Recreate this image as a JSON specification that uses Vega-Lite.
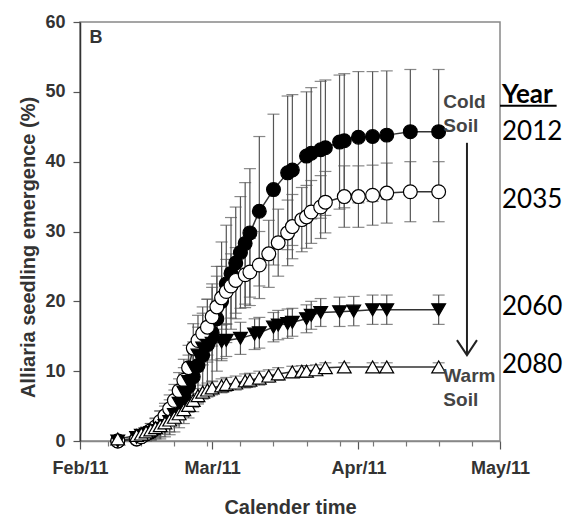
{
  "$schema": "https://vega.github.io/schema/vega-lite/v6.json",
  "width": 420,
  "height": 419,
  "autosize": "none",
  "padding": {"left": 80, "top": 22, "right": 67, "bottom": 77},
  "background": "white",
  "config": {
    "view": {"stroke": "#888", "strokeWidth": 1.5},
    "font": "Liberation Sans",
    "axis": {"labelFont": "Liberation Sans", "titleFont": "Liberation Sans", "labelFontWeight": "bold", "titleFontWeight": "bold", "labelColor": "#333", "titleColor": "#333", "labelFontSize": 18, "titleFontSize": 20, "domainColor": "#555", "domainWidth": 1.5, "tickColor": "#555", "tickWidth": 1.2, "grid": false}
  },
  "resolve": {"scale": {"x": "shared", "y": "shared"}, "axis": {"x": "independent"}},
  "datasets": {
    "main": [
      {"s":"2012","d":"2011-02-09","v":0,"lo":0,"hi":0},
      {"s":"2012","d":"2011-02-13","v":0.3,"lo":0,"hi":0.8},
      {"s":"2012","d":"2011-02-14","v":0.6,"lo":0,"hi":1.4},
      {"s":"2012","d":"2011-02-15","v":1.0,"lo":0,"hi":2.0},
      {"s":"2012","d":"2011-02-16","v":1.3,"lo":0.1,"hi":2.5},
      {"s":"2012","d":"2011-02-17","v":1.8,"lo":0.3,"hi":3.3},
      {"s":"2012","d":"2011-02-18","v":2.3,"lo":0.3,"hi":4.3},
      {"s":"2012","d":"2011-02-19","v":2.8,"lo":0.6,"hi":5.0},
      {"s":"2012","d":"2011-02-20","v":3.4,"lo":0.9,"hi":5.9},
      {"s":"2012","d":"2011-02-21","v":4.3,"lo":1.3,"hi":7.3},
      {"s":"2012","d":"2011-02-22","v":5.4,"lo":1.9,"hi":8.9},
      {"s":"2012","d":"2011-02-23","v":6.5,"lo":2.5,"hi":10.5},
      {"s":"2012","d":"2011-02-24","v":7.8,"lo":3.3,"hi":12.3},
      {"s":"2012","d":"2011-02-25","v":9.2,"lo":4.2,"hi":14.2},
      {"s":"2012","d":"2011-02-26","v":10.8,"lo":5.3,"hi":16.3},
      {"s":"2012","d":"2011-02-27","v":12.3,"lo":6.3,"hi":18.3},
      {"s":"2012","d":"2011-02-28","v":13.8,"lo":7.3,"hi":20.3},
      {"s":"2012","d":"2011-03-01","v":15.5,"lo":8.5,"hi":22.5},
      {"s":"2012","d":"2011-03-02","v":17.5,"lo":10.0,"hi":25.0},
      {"s":"2012","d":"2011-03-03","v":20.0,"lo":11.5,"hi":28.5},
      {"s":"2012","d":"2011-03-04","v":22.5,"lo":14.1,"hi":30.9},
      {"s":"2012","d":"2011-03-05","v":24.0,"lo":16.0,"hi":32.0},
      {"s":"2012","d":"2011-03-06","v":25.5,"lo":17.5,"hi":33.5},
      {"s":"2012","d":"2011-03-07","v":27.0,"lo":19.0,"hi":35.0},
      {"s":"2012","d":"2011-03-08","v":28.3,"lo":19.6,"hi":37.0},
      {"s":"2012","d":"2011-03-09","v":29.8,"lo":20.6,"hi":39.0},
      {"s":"2012","d":"2011-03-11","v":32.9,"lo":22.2,"hi":43.6},
      {"s":"2012","d":"2011-03-14","v":36.0,"lo":25.2,"hi":46.8},
      {"s":"2012","d":"2011-03-17","v":38.4,"lo":27.4,"hi":49.4},
      {"s":"2012","d":"2011-03-18","v":38.8,"lo":28.0,"hi":49.6},
      {"s":"2012","d":"2011-03-21","v":40.8,"lo":31.6,"hi":50.0},
      {"s":"2012","d":"2011-03-22","v":41.2,"lo":31.8,"hi":50.6},
      {"s":"2012","d":"2011-03-24","v":41.7,"lo":31.9,"hi":51.5},
      {"s":"2012","d":"2011-03-25","v":42.0,"lo":32.3,"hi":51.7},
      {"s":"2012","d":"2011-03-28","v":42.8,"lo":33.2,"hi":52.4},
      {"s":"2012","d":"2011-03-29","v":43.0,"lo":33.4,"hi":52.6},
      {"s":"2012","d":"2011-04-01","v":43.5,"lo":34.1,"hi":52.9},
      {"s":"2012","d":"2011-04-04","v":43.6,"lo":34.3,"hi":52.9},
      {"s":"2012","d":"2011-04-07","v":43.8,"lo":34.6,"hi":53.0},
      {"s":"2012","d":"2011-04-12","v":44.3,"lo":35.4,"hi":53.2},
      {"s":"2012","d":"2011-04-18","v":44.3,"lo":35.4,"hi":53.2},
      {"s":"2035","d":"2011-02-09","v":0,"lo":0,"hi":0},
      {"s":"2035","d":"2011-02-13","v":0.3,"lo":0,"hi":0.7},
      {"s":"2035","d":"2011-02-14","v":0.6,"lo":0,"hi":1.2},
      {"s":"2035","d":"2011-02-15","v":1.0,"lo":0.2,"hi":1.8},
      {"s":"2035","d":"2011-02-16","v":1.5,"lo":0.5,"hi":2.5},
      {"s":"2035","d":"2011-02-17","v":2.0,"lo":0.8,"hi":3.2},
      {"s":"2035","d":"2011-02-18","v":2.8,"lo":1.3,"hi":4.3},
      {"s":"2035","d":"2011-02-19","v":3.6,"lo":1.8,"hi":5.4},
      {"s":"2035","d":"2011-02-20","v":4.6,"lo":2.6,"hi":6.6},
      {"s":"2035","d":"2011-02-21","v":5.8,"lo":3.5,"hi":8.1},
      {"s":"2035","d":"2011-02-22","v":7.2,"lo":4.6,"hi":9.8},
      {"s":"2035","d":"2011-02-23","v":8.7,"lo":5.7,"hi":11.7},
      {"s":"2035","d":"2011-02-24","v":10.5,"lo":7.3,"hi":13.7},
      {"s":"2035","d":"2011-02-25","v":13.3,"lo":9.8,"hi":16.8},
      {"s":"2035","d":"2011-02-26","v":14.4,"lo":10.8,"hi":18.0},
      {"s":"2035","d":"2011-02-27","v":15.4,"lo":11.6,"hi":19.2},
      {"s":"2035","d":"2011-02-28","v":16.3,"lo":12.3,"hi":20.3},
      {"s":"2035","d":"2011-03-01","v":17.8,"lo":13.6,"hi":22.0},
      {"s":"2035","d":"2011-03-02","v":19.2,"lo":14.8,"hi":23.6},
      {"s":"2035","d":"2011-03-03","v":20.5,"lo":16.0,"hi":25.0},
      {"s":"2035","d":"2011-03-04","v":21.4,"lo":16.8,"hi":26.0},
      {"s":"2035","d":"2011-03-05","v":22.2,"lo":17.6,"hi":26.8},
      {"s":"2035","d":"2011-03-06","v":23.0,"lo":18.3,"hi":27.7},
      {"s":"2035","d":"2011-03-08","v":23.8,"lo":19.1,"hi":28.5},
      {"s":"2035","d":"2011-03-09","v":24.2,"lo":19.4,"hi":29.0},
      {"s":"2035","d":"2011-03-11","v":25.2,"lo":20.4,"hi":30.0},
      {"s":"2035","d":"2011-03-13","v":26.8,"lo":22.0,"hi":31.6},
      {"s":"2035","d":"2011-03-15","v":28.4,"lo":23.6,"hi":33.2},
      {"s":"2035","d":"2011-03-17","v":29.8,"lo":25.1,"hi":34.5},
      {"s":"2035","d":"2011-03-18","v":30.7,"lo":26.1,"hi":35.3},
      {"s":"2035","d":"2011-03-20","v":31.7,"lo":27.1,"hi":36.3},
      {"s":"2035","d":"2011-03-21","v":32.1,"lo":27.6,"hi":36.6},
      {"s":"2035","d":"2011-03-22","v":32.8,"lo":28.3,"hi":37.3},
      {"s":"2035","d":"2011-03-24","v":33.5,"lo":29.0,"hi":38.0},
      {"s":"2035","d":"2011-03-25","v":34.2,"lo":29.8,"hi":38.6},
      {"s":"2035","d":"2011-03-29","v":35.0,"lo":30.6,"hi":39.4},
      {"s":"2035","d":"2011-04-01","v":35.0,"lo":30.6,"hi":39.4},
      {"s":"2035","d":"2011-04-04","v":35.2,"lo":30.9,"hi":39.5},
      {"s":"2035","d":"2011-04-07","v":35.5,"lo":31.2,"hi":39.8},
      {"s":"2035","d":"2011-04-12","v":35.7,"lo":31.4,"hi":40.0},
      {"s":"2035","d":"2011-04-18","v":35.7,"lo":31.4,"hi":40.0},
      {"s":"2060","d":"2011-02-09","v":0,"lo":0,"hi":0},
      {"s":"2060","d":"2011-02-13","v":0.5,"lo":0,"hi":1.1},
      {"s":"2060","d":"2011-02-14","v":0.8,"lo":0,"hi":1.6},
      {"s":"2060","d":"2011-02-15","v":1.0,"lo":0.2,"hi":1.8},
      {"s":"2060","d":"2011-02-16","v":1.2,"lo":0.2,"hi":2.2},
      {"s":"2060","d":"2011-02-17","v":1.5,"lo":0.5,"hi":2.5},
      {"s":"2060","d":"2011-02-18","v":1.8,"lo":0.6,"hi":3.0},
      {"s":"2060","d":"2011-02-19","v":2.2,"lo":1.0,"hi":3.4},
      {"s":"2060","d":"2011-02-20","v":2.8,"lo":1.3,"hi":4.3},
      {"s":"2060","d":"2011-02-21","v":3.8,"lo":2.3,"hi":5.3},
      {"s":"2060","d":"2011-02-22","v":5.4,"lo":3.6,"hi":7.2},
      {"s":"2060","d":"2011-02-23","v":7.0,"lo":5.0,"hi":9.0},
      {"s":"2060","d":"2011-02-24","v":8.5,"lo":6.5,"hi":10.5},
      {"s":"2060","d":"2011-02-25","v":10.5,"lo":8.3,"hi":12.7},
      {"s":"2060","d":"2011-02-26","v":12.3,"lo":10.0,"hi":14.6},
      {"s":"2060","d":"2011-02-27","v":13.3,"lo":10.9,"hi":15.7},
      {"s":"2060","d":"2011-02-28","v":13.7,"lo":11.3,"hi":16.1},
      {"s":"2060","d":"2011-03-01","v":14.0,"lo":11.6,"hi":16.4},
      {"s":"2060","d":"2011-03-03","v":14.2,"lo":11.8,"hi":16.6},
      {"s":"2060","d":"2011-03-04","v":14.4,"lo":12.1,"hi":16.7},
      {"s":"2060","d":"2011-03-07","v":14.7,"lo":12.4,"hi":17.0},
      {"s":"2060","d":"2011-03-10","v":15.3,"lo":13.1,"hi":17.5},
      {"s":"2060","d":"2011-03-11","v":15.5,"lo":13.3,"hi":17.7},
      {"s":"2060","d":"2011-03-14","v":16.3,"lo":14.2,"hi":18.4},
      {"s":"2060","d":"2011-03-15","v":16.6,"lo":14.5,"hi":18.7},
      {"s":"2060","d":"2011-03-17","v":16.8,"lo":14.7,"hi":18.9},
      {"s":"2060","d":"2011-03-18","v":17.0,"lo":15.0,"hi":19.0},
      {"s":"2060","d":"2011-03-21","v":17.5,"lo":15.5,"hi":19.5},
      {"s":"2060","d":"2011-03-22","v":18.0,"lo":16.0,"hi":20.0},
      {"s":"2060","d":"2011-03-24","v":18.4,"lo":16.4,"hi":20.4},
      {"s":"2060","d":"2011-03-28","v":18.5,"lo":16.4,"hi":20.6},
      {"s":"2060","d":"2011-03-31","v":18.6,"lo":16.5,"hi":20.7},
      {"s":"2060","d":"2011-04-04","v":18.8,"lo":16.7,"hi":20.9},
      {"s":"2060","d":"2011-04-07","v":18.8,"lo":16.7,"hi":20.9},
      {"s":"2060","d":"2011-04-18","v":18.8,"lo":16.7,"hi":20.9},
      {"s":"2080","d":"2011-02-09","v":0.3,"lo":0,"hi":0.6},
      {"s":"2080","d":"2011-02-13","v":0.8,"lo":0.3,"hi":1.3},
      {"s":"2080","d":"2011-02-14","v":1.0,"lo":0.5,"hi":1.5},
      {"s":"2080","d":"2011-02-15","v":1.3,"lo":0.7,"hi":1.9},
      {"s":"2080","d":"2011-02-16","v":1.6,"lo":1.0,"hi":2.2},
      {"s":"2080","d":"2011-02-17","v":1.9,"lo":1.2,"hi":2.6},
      {"s":"2080","d":"2011-02-18","v":2.2,"lo":1.5,"hi":2.9},
      {"s":"2080","d":"2011-02-19","v":2.6,"lo":1.8,"hi":3.4},
      {"s":"2080","d":"2011-02-20","v":3.0,"lo":2.2,"hi":3.8},
      {"s":"2080","d":"2011-02-21","v":3.4,"lo":2.5,"hi":4.3},
      {"s":"2080","d":"2011-02-22","v":3.9,"lo":3.0,"hi":4.8},
      {"s":"2080","d":"2011-02-23","v":4.5,"lo":3.5,"hi":5.5},
      {"s":"2080","d":"2011-02-24","v":5.1,"lo":4.1,"hi":6.1},
      {"s":"2080","d":"2011-02-25","v":5.8,"lo":4.8,"hi":6.8},
      {"s":"2080","d":"2011-02-26","v":6.5,"lo":5.5,"hi":7.5},
      {"s":"2080","d":"2011-02-27","v":7.0,"lo":6.0,"hi":8.0},
      {"s":"2080","d":"2011-02-28","v":7.3,"lo":6.3,"hi":8.3},
      {"s":"2080","d":"2011-03-01","v":7.6,"lo":6.6,"hi":8.6},
      {"s":"2080","d":"2011-03-03","v":7.9,"lo":6.9,"hi":8.9},
      {"s":"2080","d":"2011-03-04","v":8.1,"lo":7.1,"hi":9.1},
      {"s":"2080","d":"2011-03-06","v":8.3,"lo":7.3,"hi":9.3},
      {"s":"2080","d":"2011-03-08","v":8.6,"lo":7.6,"hi":9.6},
      {"s":"2080","d":"2011-03-09","v":8.7,"lo":7.7,"hi":9.7},
      {"s":"2080","d":"2011-03-11","v":9.0,"lo":8.0,"hi":10.0},
      {"s":"2080","d":"2011-03-13","v":9.3,"lo":8.4,"hi":10.2},
      {"s":"2080","d":"2011-03-15","v":9.6,"lo":8.7,"hi":10.5},
      {"s":"2080","d":"2011-03-18","v":9.9,"lo":9.1,"hi":10.7},
      {"s":"2080","d":"2011-03-20","v":10.0,"lo":9.2,"hi":10.8},
      {"s":"2080","d":"2011-03-21","v":10.0,"lo":9.2,"hi":10.8},
      {"s":"2080","d":"2011-03-23","v":10.2,"lo":9.5,"hi":10.9},
      {"s":"2080","d":"2011-03-25","v":10.5,"lo":9.8,"hi":11.2},
      {"s":"2080","d":"2011-03-29","v":10.6,"lo":10.0,"hi":11.2},
      {"s":"2080","d":"2011-04-04","v":10.6,"lo":10.0,"hi":11.2},
      {"s":"2080","d":"2011-04-07","v":10.6,"lo":10.0,"hi":11.2},
      {"s":"2080","d":"2011-04-18","v":10.6,"lo":10.0,"hi":11.2}
    ],
    "soil": [
      {"d":"2011-04-19","v":47.7,"t":["Cold","Soil"]},
      {"d":"2011-04-19","v":8.45,"t":["Warm","Soil"]}
    ],
    "years": [
      {"d":"2011-05-01","v":43.1,"t":"2012"},
      {"d":"2011-05-01","v":33.4,"t":"2035"},
      {"d":"2011-05-01","v":18.05,"t":"2060"},
      {"d":"2011-05-01","v":9.74,"t":"2080"}
    ],
    "yearhead": [{"d":"2011-05-01","d2":"2011-05-13","v":48.4,"u":48.0,"t":"Year"}],
    "panel": [{"d":"2011-02-03","v":57.7,"t":"B"}],
    "arrow": [{"d":"2011-04-24","v":42.7,"v2":12.3}]
  },
  "layer": [
    {
      "data": {"name": "main"},
      "mark": {"type": "rule", "color": "#555", "strokeWidth": 1.2},
      "encoding": {
        "x": {"field": "d", "type": "temporal",
          "scale": {"type": "utc", "domain": [{"year": 2011, "month": 2, "date": 1, "utc": true}, {"year": 2011, "month": 5, "date": 1, "utc": true}], "nice": false},
          "axis": {
            "orient": "bottom",
            "title": "Calender time",
            "titlePadding": 20,
            "values": [
              {"year": 2011, "month": 2, "date": 1, "utc": true},
              {"year": 2011, "month": 3, "date": 1, "utc": true},
              {"year": 2011, "month": 4, "date": 1, "utc": true},
              {"year": 2011, "month": 5, "date": 1, "utc": true}
            ],
            "labelExpr": "utcFormat(datum.value, '%b/%y')",
            "labelFontWeight": "bold",
            "labelFontSize": 18,
            "labelFont": "Liberation Sans",
            "labelColor": "#333",
            "tickSize": 8,
            "labelPadding": 10,
            "labelFlush": false,
            "labelOverlap": false,
            "domainColor": "#888"
          }
        },
        "y": {"field": "lo", "type": "quantitative",
          "scale": {"domain": [0, 60], "nice": false, "zero": true},
          "axis": {"title": "Alliaria seedling emergence (%)", "values": [0, 10, 20, 30, 40, 50, 60], "tickSize": 7, "labelPadding": 8, "titlePadding": 6, "titleY": 225, "domainColor": "#333"}
        },
        "y2": {"field": "hi"}
      }
    },
    {
      "data": {"name": "main"},
      "mark": {"type": "tick", "orient": "horizontal", "size": 12, "thickness": 1.2, "color": "#555"},
      "encoding": {
        "x": {"field": "d", "type": "temporal",
          "axis": {
            "orient": "bottom",
            "title": null,
            "labels": false,
            "domain": false,
            "tickSize": 5,
            "tickColor": "#777",
            "values": [
              {"year": 2011, "month": 2, "date": 7, "utc": true},
              {"year": 2011, "month": 2, "date": 14, "utc": true},
              {"year": 2011, "month": 2, "date": 21, "utc": true},
              {"year": 2011, "month": 2, "date": 28, "utc": true},
              {"year": 2011, "month": 3, "date": 7, "utc": true},
              {"year": 2011, "month": 3, "date": 14, "utc": true},
              {"year": 2011, "month": 3, "date": 21, "utc": true},
              {"year": 2011, "month": 3, "date": 28, "utc": true},
              {"year": 2011, "month": 4, "date": 4, "utc": true},
              {"year": 2011, "month": 4, "date": 11, "utc": true},
              {"year": 2011, "month": 4, "date": 18, "utc": true},
              {"year": 2011, "month": 4, "date": 25, "utc": true}
            ]
          }
        },
        "y": {"field": "hi", "type": "quantitative"}
      }
    },
    {
      "data": {"name": "main"},
      "mark": {"type": "tick", "orient": "horizontal", "size": 12, "thickness": 1.2, "color": "#555"},
      "encoding": {
        "x": {"field": "d", "type": "temporal", "axis": null},
        "y": {"field": "lo", "type": "quantitative"}
      }
    },
    {
      "data": {"name": "main"},
      "mark": {"type": "line", "color": "#333", "strokeWidth": 1.5},
      "encoding": {
        "x": {"field": "d", "type": "temporal", "axis": null},
        "y": {"field": "v", "type": "quantitative"},
        "detail": {"field": "s", "type": "nominal"}
      }
    },
    {
      "data": {"name": "main"},
      "mark": {"type": "point", "filled": true, "stroke": "#000", "strokeWidth": 1.2, "size": 190, "opacity": 1},
      "encoding": {
        "x": {"field": "d", "type": "temporal", "axis": null},
        "y": {"field": "v", "type": "quantitative"},
        "shape": {"field": "s", "type": "nominal", "scale": {"domain": ["2012", "2035", "2060", "2080"], "range": ["circle", "circle", "triangle-down", "triangle-up"]}, "legend": null},
        "fill": {"field": "s", "type": "nominal", "scale": {"domain": ["2012", "2035", "2060", "2080"], "range": ["#000000", "#ffffff", "#000000", "#ffffff"]}, "legend": null}
      }
    },
    {
      "data": {"name": "panel"},
      "mark": {"type": "text", "align": "left", "baseline": "middle", "fontSize": 18, "fontWeight": "bold", "color": "#333"},
      "encoding": {
        "x": {"field": "d", "type": "temporal", "axis": null},
        "y": {"field": "v", "type": "quantitative"},
        "text": {"field": "t"}
      }
    },
    {
      "data": {"name": "soil"},
      "mark": {"type": "text", "align": "left", "baseline": "alphabetic", "fontSize": 19, "fontWeight": "bold", "color": "#444", "lineHeight": 24},
      "encoding": {
        "x": {"field": "d", "type": "temporal", "axis": null},
        "y": {"field": "v", "type": "quantitative"},
        "text": {"field": "t"}
      }
    },
    {
      "data": {"name": "arrow"},
      "mark": {"type": "rule", "color": "#222", "strokeWidth": 2},
      "encoding": {
        "x": {"field": "d", "type": "temporal", "axis": null},
        "y": {"field": "v", "type": "quantitative"},
        "y2": {"field": "v2"}
      }
    },
    {
      "data": {"name": "arrow"},
      "mark": {"type": "point", "shape": "M-1,-1.5L0,0L1,-1.5", "filled": false, "stroke": "#222", "strokeWidth": 2, "size": 400, "opacity": 1},
      "encoding": {
        "x": {"field": "d", "type": "temporal", "axis": null},
        "y": {"field": "v2", "type": "quantitative"}
      }
    },
    {
      "data": {"name": "yearhead"},
      "mark": {"type": "text", "align": "left", "baseline": "alphabetic", "dx": 2, "font": "Lato", "fontSize": 26, "fontWeight": "bold", "color": "#000"},
      "encoding": {
        "x": {"field": "d", "type": "temporal", "axis": null},
        "y": {"field": "v", "type": "quantitative"},
        "text": {"field": "t"}
      }
    },
    {
      "data": {"name": "yearhead"},
      "mark": {"type": "rule", "color": "#000", "strokeWidth": 2},
      "encoding": {
        "x": {"field": "d", "type": "temporal", "axis": null},
        "x2": {"field": "d2"},
        "y": {"field": "u", "type": "quantitative"}
      }
    },
    {
      "data": {"name": "years"},
      "mark": {"type": "text", "align": "left", "baseline": "alphabetic", "dx": 2, "font": "Lato", "fontSize": 26, "color": "#000"},
      "encoding": {
        "x": {"field": "d", "type": "temporal", "axis": null},
        "y": {"field": "v", "type": "quantitative"},
        "text": {"field": "t"}
      }
    }
  ]
}
